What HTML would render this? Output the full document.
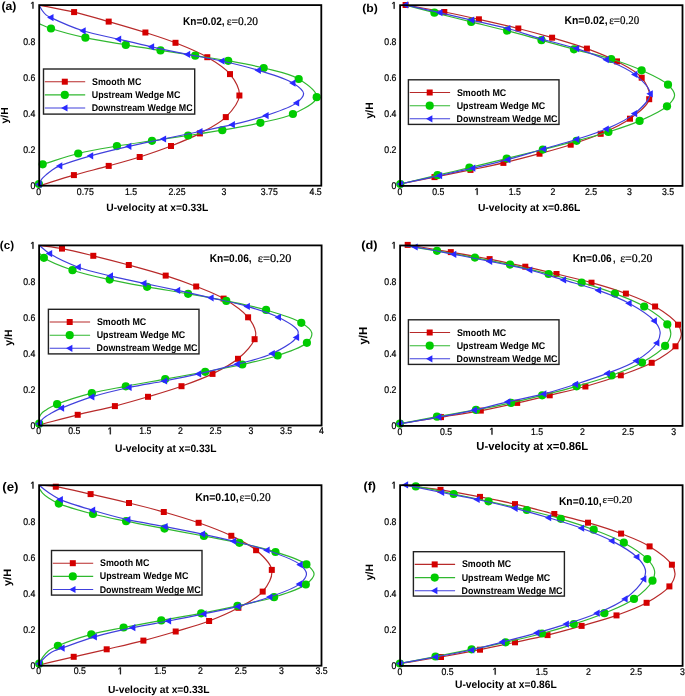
<!DOCTYPE html><html><head><meta charset="utf-8"><style>html,body{margin:0;padding:0;background:#fff;width:685px;height:696px;overflow:hidden}svg{display:block;filter:blur(0.3px)}text{text-rendering:geometricPrecision}</style></head><body><svg width="685" height="696" viewBox="0 0 685 696">
<rect width="685" height="696" fill="#fff"/>
<defs><clipPath id="c0"><rect x="39.2" y="4.6" width="282.6" height="181.1"/></clipPath><clipPath id="c1"><rect x="400.1" y="4.7" width="282.9" height="181.2"/></clipPath><clipPath id="c2"><rect x="39.1" y="244.9" width="283" height="180.6"/></clipPath><clipPath id="c3"><rect x="400.1" y="245" width="282.9" height="180.9"/></clipPath><clipPath id="c4"><rect x="39.1" y="484.7" width="282.9" height="181"/></clipPath><clipPath id="c5"><rect x="400.1" y="484.7" width="283" height="181.2"/></clipPath></defs>
<path d="M39.2,5.1 C50.83,7.43 62.54,9.36 74.1,12.1 C85.71,14.85 97.01,18.26 108.7,21.6 C120.77,25.05 133.81,28.8 145.4,32.5 C155.97,35.88 165.42,38.81 175.5,42.8 C186.05,46.98 197.86,51.63 207.3,57.2 C215.8,62.21 224.59,67.31 230,74.1 C234.92,80.27 239.92,88.49 239.4,95.5 C238.86,102.83 231.93,110.97 225.8,117.1 C219.08,123.81 208.96,128.61 199.9,133.4 C190.71,138.26 180.9,142.11 171,146 C160.85,149.99 150.16,153.66 139.7,157 C129.39,160.29 119.35,162.96 108.7,165.9 C97.45,169 85.46,171.81 73.9,175.1 C62.29,178.41 50.77,182.17 39.2,185.7" fill="none" stroke="#b82a2a" stroke-width="1.2" clip-path="url(#c0)"/>
<rect x="71.1" y="9.1" width="6" height="6" fill="#d40000"/>
<rect x="105.7" y="18.6" width="6" height="6" fill="#d40000"/>
<rect x="142.4" y="29.5" width="6" height="6" fill="#d40000"/>
<rect x="172.5" y="39.8" width="6" height="6" fill="#d40000"/>
<rect x="204.3" y="54.2" width="6" height="6" fill="#d40000"/>
<rect x="227" y="71.1" width="6" height="6" fill="#d40000"/>
<rect x="236.4" y="92.5" width="6" height="6" fill="#d40000"/>
<rect x="222.8" y="114.1" width="6" height="6" fill="#d40000"/>
<rect x="196.9" y="130.4" width="6" height="6" fill="#d40000"/>
<rect x="168" y="143" width="6" height="6" fill="#d40000"/>
<rect x="136.7" y="154" width="6" height="6" fill="#d40000"/>
<rect x="105.7" y="162.9" width="6" height="6" fill="#d40000"/>
<rect x="70.9" y="172.1" width="6" height="6" fill="#d40000"/>
<path d="M39,23.6 C43,25.23 45.9,26.79 51,28.5 C59.45,31.34 73.41,35.03 85.4,37.7 C98.27,40.56 112.84,42.72 125.8,44.9 C137.8,46.92 148.93,48.6 160.5,50.4 C172.06,52.2 183.78,53.95 195.2,55.7 C206.34,57.41 217.02,58.8 228.2,60.8 C239.84,62.88 251.99,64.98 263.7,68 C275.49,71.04 289.48,73.37 298.7,79 C306.4,83.7 317.2,91.53 316.7,97.2 C316.17,103.25 301.87,109.78 292.9,114 C283.26,118.53 271.71,120.17 260.4,122.8 C248.25,125.62 234.68,128.04 222.3,130.2 C210.61,132.24 199.66,133.76 188.1,135.5 C176.23,137.29 163.95,139.02 152,140.8 C140.22,142.55 128.87,144.05 116.9,146.1 C104.29,148.26 90.74,150.4 78.2,153.5 C66.03,156.51 54.53,160.7 42.7,164.3" fill="none" stroke="#30b830" stroke-width="1.2" clip-path="url(#c0)"/>
<circle cx="51" cy="28.5" r="4.1" fill="#00cc00"/>
<circle cx="85.4" cy="37.7" r="4.1" fill="#00cc00"/>
<circle cx="125.8" cy="44.9" r="4.1" fill="#00cc00"/>
<circle cx="160.5" cy="50.4" r="4.1" fill="#00cc00"/>
<circle cx="195.2" cy="55.7" r="4.1" fill="#00cc00"/>
<circle cx="228.2" cy="60.8" r="4.1" fill="#00cc00"/>
<circle cx="263.7" cy="68" r="4.1" fill="#00cc00"/>
<circle cx="298.7" cy="79" r="4.1" fill="#00cc00"/>
<circle cx="316.7" cy="97.2" r="4.1" fill="#00cc00"/>
<circle cx="292.9" cy="114" r="4.1" fill="#00cc00"/>
<circle cx="260.4" cy="122.8" r="4.1" fill="#00cc00"/>
<circle cx="222.3" cy="130.2" r="4.1" fill="#00cc00"/>
<circle cx="188.1" cy="135.5" r="4.1" fill="#00cc00"/>
<circle cx="152" cy="140.8" r="4.1" fill="#00cc00"/>
<circle cx="116.9" cy="146.1" r="4.1" fill="#00cc00"/>
<circle cx="78.2" cy="153.5" r="4.1" fill="#00cc00"/>
<circle cx="42.7" cy="164.3" r="4.1" fill="#00cc00"/>
<circle cx="38.9" cy="184" r="4.1" fill="#00cc00"/>
<path d="M39.2,5.1 C39.47,5.67 39.65,6.13 40,6.8 C40.53,7.81 41.3,9.25 42.2,10.5 C43.24,11.95 44.53,13.71 46,14.9 C47.44,16.07 48.5,16.45 50.9,17.6 C56.88,20.46 71.96,27.22 83.1,30.8 C94.51,34.46 106.99,36.49 118.6,39.2 C129.77,41.81 140.27,44.32 151.5,46.8 C163.24,49.39 175.71,52 187.6,54.4 C199.17,56.73 210.34,58.41 221.9,61 C233.89,63.68 246.42,66.59 258.3,70.3 C270.08,73.97 284.99,78.09 292.9,83.1 C297.94,86.3 303.34,90.09 303.6,93.6 C303.83,96.69 300.31,100.02 296.6,102.9 C290.33,107.76 276.57,112 266,115.6 C255.15,119.3 243.46,122.02 232.3,124.7 C221.43,127.31 211.02,129.19 199.9,131.5 C188.12,133.95 175.49,136.5 163.5,139 C151.79,141.44 140.62,143.59 128.8,146.3 C116.35,149.16 102.6,152.35 90.6,155.8 C79.69,158.93 66.42,163.04 59.7,165.9 C56.26,167.36 54.48,168.41 52.2,169.9 C50.07,171.29 48.19,172.91 46.4,174.5 C44.7,176.01 42.96,177.5 41.7,179.2 C40.53,180.78 39.9,182.6 39,184.3" fill="none" stroke="#4040dc" stroke-width="1.2" clip-path="url(#c0)"/>
<path d="M47.1,17.6 L53.5,14 L53.5,21.2 Z" fill="#2a2aff"/>
<path d="M79.3,30.8 L85.7,27.2 L85.7,34.4 Z" fill="#2a2aff"/>
<path d="M114.8,39.2 L121.2,35.6 L121.2,42.8 Z" fill="#2a2aff"/>
<path d="M147.7,46.8 L154.1,43.2 L154.1,50.4 Z" fill="#2a2aff"/>
<path d="M183.8,54.4 L190.2,50.8 L190.2,58 Z" fill="#2a2aff"/>
<path d="M218.1,61 L224.5,57.4 L224.5,64.6 Z" fill="#2a2aff"/>
<path d="M254.5,70.3 L260.9,66.7 L260.9,73.9 Z" fill="#2a2aff"/>
<path d="M289.1,83.1 L295.5,79.5 L295.5,86.7 Z" fill="#2a2aff"/>
<path d="M292.8,102.9 L299.2,99.3 L299.2,106.5 Z" fill="#2a2aff"/>
<path d="M262.2,115.6 L268.6,112 L268.6,119.2 Z" fill="#2a2aff"/>
<path d="M228.5,124.7 L234.9,121.1 L234.9,128.3 Z" fill="#2a2aff"/>
<path d="M196.1,131.5 L202.5,127.9 L202.5,135.1 Z" fill="#2a2aff"/>
<path d="M159.7,139 L166.1,135.4 L166.1,142.6 Z" fill="#2a2aff"/>
<path d="M125,146.3 L131.4,142.7 L131.4,149.9 Z" fill="#2a2aff"/>
<path d="M86.8,155.8 L93.2,152.2 L93.2,159.4 Z" fill="#2a2aff"/>
<path d="M55.9,165.9 L62.3,162.3 L62.3,169.5 Z" fill="#2a2aff"/>
<path d="M35.2,184.3 L41.6,180.7 L41.6,187.9 Z" fill="#2a2aff"/>
<rect x="39.2" y="5.1" width="282.1" height="180.6" fill="none" stroke="#000" stroke-width="1.8"/>
<text transform="translate(35.25,189) scale(0.9000,1)" text-anchor="end" style="font-family:'Liberation Sans',sans-serif;stroke:#000;stroke-width:0.22px;font-size:9.7px">0</text>
<text transform="translate(35.25,152.92) scale(0.9000,1)" text-anchor="end" style="font-family:'Liberation Sans',sans-serif;stroke:#000;stroke-width:0.22px;font-size:9.7px">0.2</text>
<text transform="translate(35.25,116.84) scale(0.9000,1)" text-anchor="end" style="font-family:'Liberation Sans',sans-serif;stroke:#000;stroke-width:0.22px;font-size:9.7px">0.4</text>
<text transform="translate(35.25,80.76) scale(0.9000,1)" text-anchor="end" style="font-family:'Liberation Sans',sans-serif;stroke:#000;stroke-width:0.22px;font-size:9.7px">0.6</text>
<text transform="translate(35.25,44.68) scale(0.9000,1)" text-anchor="end" style="font-family:'Liberation Sans',sans-serif;stroke:#000;stroke-width:0.22px;font-size:9.7px">0.8</text>
<path d="M32.59,8.6 L32.59,2.74 L31.23,3.82 L31.23,3.01 L32.65,1.93 L33.36,1.93 L33.36,8.6 Z" fill="#000" stroke="#000" stroke-width="0.4"/>
<text transform="translate(38.6,194.7) scale(0.9000,1)" text-anchor="middle" style="font-family:'Liberation Sans',sans-serif;stroke:#000;stroke-width:0.22px;font-size:9.7px">0</text>
<text transform="translate(85.3,194.7) scale(0.9000,1)" text-anchor="middle" style="font-family:'Liberation Sans',sans-serif;stroke:#000;stroke-width:0.22px;font-size:9.7px">0.75</text>
<text transform="translate(131,194.7) scale(0.9000,1)" text-anchor="middle" style="font-family:'Liberation Sans',sans-serif;stroke:#000;stroke-width:0.22px;font-size:9.7px">1.5</text>
<text transform="translate(177,194.7) scale(0.9000,1)" text-anchor="middle" style="font-family:'Liberation Sans',sans-serif;stroke:#000;stroke-width:0.22px;font-size:9.7px">2.25</text>
<text transform="translate(223.8,194.7) scale(0.9000,1)" text-anchor="middle" style="font-family:'Liberation Sans',sans-serif;stroke:#000;stroke-width:0.22px;font-size:9.7px">3</text>
<text transform="translate(269.3,194.7) scale(0.9000,1)" text-anchor="middle" style="font-family:'Liberation Sans',sans-serif;stroke:#000;stroke-width:0.22px;font-size:9.7px">3.75</text>
<text transform="translate(315.6,194.7) scale(0.9000,1)" text-anchor="middle" style="font-family:'Liberation Sans',sans-serif;stroke:#000;stroke-width:0.22px;font-size:9.7px">4.5</text>
<text transform="translate(106.28,211.4) scale(0.9788,1)" style="font-family:'Liberation Sans',sans-serif;font-weight:bold;font-size:10.5px">U-velocity at x=0.33L</text>
<text transform="translate(1.39,10.18) scale(1.0546,1)" style="font-family:'Liberation Sans',sans-serif;font-weight:bold;font-size:11.64px">(a)</text>
<text transform="translate(8.48,123.4) rotate(-90) scale(1.0275,1)" x="-0.08" style="font-family:'Liberation Sans',sans-serif;font-weight:bold;font-size:10.19px">y/H</text>
<text transform="translate(183.04,24.9) scale(0.8998,1)" style="font-family:'Liberation Sans',sans-serif;font-weight:bold;font-size:11.17px">Kn=0.02,</text>
<text transform="translate(226.76,24.9) scale(0.9925,1)" style="font-family:'Liberation Serif',serif;stroke:#000;stroke-width:0.2px;font-size:11.56px">ε=0.20</text>
<rect x="43.5" y="69" width="151.2" height="45.1" fill="#fff" stroke="#222" stroke-width="1.4"/>
<line x1="44.8" y1="81.7" x2="85.2" y2="81.7" stroke="#b82a2a" stroke-width="1.1"/>
<rect x="61.8" y="78.7" width="6" height="6" fill="#d40000"/>
<text transform="translate(92.03,84.7) scale(0.9100,1)" text-anchor="start" style="font-family:'Liberation Sans',sans-serif;font-weight:bold;font-size:9.75px">Smooth MC</text>
<line x1="44.8" y1="94.9" x2="85.2" y2="94.9" stroke="#30b830" stroke-width="1.1"/>
<circle cx="64.8" cy="94.9" r="4.1" fill="#00cc00"/>
<text transform="translate(91.77,97.9) scale(0.9100,1)" text-anchor="start" style="font-family:'Liberation Sans',sans-serif;font-weight:bold;font-size:9.75px">Upstream Wedge MC</text>
<line x1="44.8" y1="108" x2="85.2" y2="108" stroke="#4040dc" stroke-width="1.1"/>
<path d="M61.1,108 L67.5,104.4 L67.5,111.6 Z" fill="#2a2aff"/>
<text transform="translate(91.71,111) scale(0.9100,1)" text-anchor="start" style="font-family:'Liberation Sans',sans-serif;font-weight:bold;font-size:9.75px">Downstream Wedge MC</text>
<path d="M400.3,184 C411.7,181.7 422.95,179.42 434.5,177.1 C446.35,174.72 458.78,172.32 470.5,169.9 C481.72,167.58 492.21,165.52 503.4,162.9 C515.18,160.15 527.93,156.84 539.5,153.7 C550.3,150.77 560.46,148.03 570.7,144.7 C580.85,141.39 590.89,138.09 600.7,133.8 C610.67,129.44 621.67,124.83 630,118.7 C637.59,113.11 647.58,106.41 649.2,99.2 C650.68,92.62 646.41,83.74 641.7,77.7 C636.33,70.81 625.87,66.16 617,61.4 C607.67,56.39 597.4,52.47 586.9,48.6 C575.82,44.52 563.65,41.08 552.1,37.7 C540.78,34.39 530.03,31.46 518.3,28.5 C505.7,25.31 491.62,22.13 478.9,19.3 C467.01,16.66 456.17,14.33 444.3,12 C431.78,9.55 418.5,7.33 405.6,5" fill="none" stroke="#b82a2a" stroke-width="1.2" clip-path="url(#c1)"/>
<rect x="431.5" y="174.1" width="6" height="6" fill="#d40000"/>
<rect x="467.5" y="166.9" width="6" height="6" fill="#d40000"/>
<rect x="500.4" y="159.9" width="6" height="6" fill="#d40000"/>
<rect x="536.5" y="150.7" width="6" height="6" fill="#d40000"/>
<rect x="567.7" y="141.7" width="6" height="6" fill="#d40000"/>
<rect x="597.7" y="130.8" width="6" height="6" fill="#d40000"/>
<rect x="627" y="115.7" width="6" height="6" fill="#d40000"/>
<rect x="646.2" y="96.2" width="6" height="6" fill="#d40000"/>
<rect x="638.7" y="74.7" width="6" height="6" fill="#d40000"/>
<rect x="614" y="58.4" width="6" height="6" fill="#d40000"/>
<rect x="583.9" y="45.6" width="6" height="6" fill="#d40000"/>
<rect x="549.1" y="34.7" width="6" height="6" fill="#d40000"/>
<rect x="515.3" y="25.5" width="6" height="6" fill="#d40000"/>
<rect x="475.9" y="16.3" width="6" height="6" fill="#d40000"/>
<rect x="441.3" y="9" width="6" height="6" fill="#d40000"/>
<rect x="402.6" y="2" width="6" height="6" fill="#d40000"/>
<path d="M400.3,184 C412.7,181.07 425.58,178.01 437.5,175.2 C448.54,172.6 458.36,170.36 469.4,167.7 C481.36,164.82 494.37,161.54 506.7,158.5 C518.83,155.51 530.97,152.6 542.8,149.6 C554.26,146.7 565.52,143.78 576.6,140.8 C587.37,137.91 597.91,135.31 608.4,132 C618.91,128.68 629.69,125.27 639.6,120.9 C649.19,116.67 661.05,111.6 667,106.3 C670.9,102.82 674.51,98.96 674.6,95.3 C674.68,91.76 671.56,88.06 668,84.7 C662.48,79.48 650.87,74.52 641.6,70.3 C631.97,65.91 621.93,62.39 611.2,59 C599.51,55.31 585.97,52.54 574,49.3 C562.79,46.27 552.49,43.26 541.5,40.2 C530.2,37.06 518.71,33.73 507.1,30.7 C495.28,27.62 483.24,24.88 471.2,21.9 C459.01,18.88 445.91,15.64 434.4,12.7 C424.21,10.1 415.2,7.7 405.6,5.2" fill="none" stroke="#30b830" stroke-width="1.2" clip-path="url(#c1)"/>
<circle cx="400.3" cy="184" r="4.1" fill="#00cc00"/>
<circle cx="437.5" cy="175.2" r="4.1" fill="#00cc00"/>
<circle cx="469.4" cy="167.7" r="4.1" fill="#00cc00"/>
<circle cx="506.7" cy="158.5" r="4.1" fill="#00cc00"/>
<circle cx="542.8" cy="149.6" r="4.1" fill="#00cc00"/>
<circle cx="576.6" cy="140.8" r="4.1" fill="#00cc00"/>
<circle cx="608.4" cy="132" r="4.1" fill="#00cc00"/>
<circle cx="639.6" cy="120.9" r="4.1" fill="#00cc00"/>
<circle cx="667" cy="106.3" r="4.1" fill="#00cc00"/>
<circle cx="668" cy="84.7" r="4.1" fill="#00cc00"/>
<circle cx="641.6" cy="70.3" r="4.1" fill="#00cc00"/>
<circle cx="611.2" cy="59" r="4.1" fill="#00cc00"/>
<circle cx="574" cy="49.3" r="4.1" fill="#00cc00"/>
<circle cx="541.5" cy="40.2" r="4.1" fill="#00cc00"/>
<circle cx="507.1" cy="30.7" r="4.1" fill="#00cc00"/>
<circle cx="471.2" cy="21.9" r="4.1" fill="#00cc00"/>
<circle cx="434.4" cy="12.7" r="4.1" fill="#00cc00"/>
<path d="M400.3,184 C413.37,181.2 426.98,178.34 439.5,175.6 C451.03,173.08 461.49,170.82 472.7,168.2 C484.25,165.5 496.09,162.77 507.8,159.6 C519.69,156.38 531.82,152.44 543.5,149 C554.74,145.68 565.92,142.72 576.6,139.3 C586.78,136.04 596.6,133.24 606.2,129 C615.94,124.7 627.03,119.98 634.6,113.6 C641.28,107.97 650.21,100.36 650.2,93.8 C650.19,87.3 641.44,79.86 634.8,74.4 C627.25,68.19 616.03,64.01 606.3,59.7 C596.63,55.42 586.99,51.96 576.6,48.6 C565.49,45.01 553.14,42.37 541.6,39 C530.21,35.67 519.32,31.62 507.8,28.5 C496,25.3 483.27,22.82 471.6,20.1 C460.68,17.56 450.68,15.18 439.9,12.7 C428.7,10.12 417.03,7.5 405.6,4.9" fill="none" stroke="#4040dc" stroke-width="1.2" clip-path="url(#c1)"/>
<path d="M396.5,184 L402.9,180.4 L402.9,187.6 Z" fill="#2a2aff"/>
<path d="M435.7,175.6 L442.1,172 L442.1,179.2 Z" fill="#2a2aff"/>
<path d="M468.9,168.2 L475.3,164.6 L475.3,171.8 Z" fill="#2a2aff"/>
<path d="M504,159.6 L510.4,156 L510.4,163.2 Z" fill="#2a2aff"/>
<path d="M539.7,149 L546.1,145.4 L546.1,152.6 Z" fill="#2a2aff"/>
<path d="M572.8,139.3 L579.2,135.7 L579.2,142.9 Z" fill="#2a2aff"/>
<path d="M602.4,129 L608.8,125.4 L608.8,132.6 Z" fill="#2a2aff"/>
<path d="M630.8,113.6 L637.2,110 L637.2,117.2 Z" fill="#2a2aff"/>
<path d="M646.4,93.8 L652.8,90.2 L652.8,97.4 Z" fill="#2a2aff"/>
<path d="M631,74.4 L637.4,70.8 L637.4,78 Z" fill="#2a2aff"/>
<path d="M602.5,59.7 L608.9,56.1 L608.9,63.3 Z" fill="#2a2aff"/>
<path d="M572.8,48.6 L579.2,45 L579.2,52.2 Z" fill="#2a2aff"/>
<path d="M537.8,39 L544.2,35.4 L544.2,42.6 Z" fill="#2a2aff"/>
<path d="M504,28.5 L510.4,24.9 L510.4,32.1 Z" fill="#2a2aff"/>
<path d="M467.8,20.1 L474.2,16.5 L474.2,23.7 Z" fill="#2a2aff"/>
<path d="M436.1,12.7 L442.5,9.1 L442.5,16.3 Z" fill="#2a2aff"/>
<path d="M401.8,4.9 L408.2,1.3 L408.2,8.5 Z" fill="#2a2aff"/>
<rect x="400.1" y="5.2" width="282.4" height="180.7" fill="none" stroke="#000" stroke-width="1.8"/>
<text transform="translate(396.4,189) scale(0.9000,1)" text-anchor="end" style="font-family:'Liberation Sans',sans-serif;stroke:#000;stroke-width:0.22px;font-size:9.7px">0</text>
<text transform="translate(396.4,152.94) scale(0.9000,1)" text-anchor="end" style="font-family:'Liberation Sans',sans-serif;stroke:#000;stroke-width:0.22px;font-size:9.7px">0.2</text>
<text transform="translate(396.4,116.88) scale(0.9000,1)" text-anchor="end" style="font-family:'Liberation Sans',sans-serif;stroke:#000;stroke-width:0.22px;font-size:9.7px">0.4</text>
<text transform="translate(396.4,80.82) scale(0.9000,1)" text-anchor="end" style="font-family:'Liberation Sans',sans-serif;stroke:#000;stroke-width:0.22px;font-size:9.7px">0.6</text>
<text transform="translate(396.4,44.76) scale(0.9000,1)" text-anchor="end" style="font-family:'Liberation Sans',sans-serif;stroke:#000;stroke-width:0.22px;font-size:9.7px">0.8</text>
<path d="M393.74,8.7 L393.74,2.84 L392.38,3.92 L392.38,3.11 L393.8,2.03 L394.51,2.03 L394.51,8.7 Z" fill="#000" stroke="#000" stroke-width="0.4"/>
<text transform="translate(399.9,194.8) scale(0.9000,1)" text-anchor="middle" style="font-family:'Liberation Sans',sans-serif;stroke:#000;stroke-width:0.22px;font-size:9.7px">0</text>
<text transform="translate(438.2,194.8) scale(0.9000,1)" text-anchor="middle" style="font-family:'Liberation Sans',sans-serif;stroke:#000;stroke-width:0.22px;font-size:9.7px">0.5</text>
<path d="M476.79,194.8 L476.79,188.94 L475.44,190.02 L475.44,189.21 L476.86,188.13 L477.57,188.13 L477.57,194.8 Z" fill="#000" stroke="#000" stroke-width="0.4"/>
<text transform="translate(514.8,194.8) scale(0.9000,1)" text-anchor="middle" style="font-family:'Liberation Sans',sans-serif;stroke:#000;stroke-width:0.22px;font-size:9.7px">1.5</text>
<text transform="translate(553,194.8) scale(0.9000,1)" text-anchor="middle" style="font-family:'Liberation Sans',sans-serif;stroke:#000;stroke-width:0.22px;font-size:9.7px">2</text>
<text transform="translate(591,194.8) scale(0.9000,1)" text-anchor="middle" style="font-family:'Liberation Sans',sans-serif;stroke:#000;stroke-width:0.22px;font-size:9.7px">2.5</text>
<text transform="translate(629.4,194.8) scale(0.9000,1)" text-anchor="middle" style="font-family:'Liberation Sans',sans-serif;stroke:#000;stroke-width:0.22px;font-size:9.7px">3</text>
<text transform="translate(668,194.8) scale(0.9000,1)" text-anchor="middle" style="font-family:'Liberation Sans',sans-serif;stroke:#000;stroke-width:0.22px;font-size:9.7px">3.5</text>
<text transform="translate(477.88,210.8) scale(0.9968,1)" style="font-family:'Liberation Sans',sans-serif;font-weight:bold;font-size:10.36px">U-velocity at x=0.86L</text>
<text transform="translate(362.29,12.23) scale(1.0748,1)" style="font-family:'Liberation Sans',sans-serif;font-weight:bold;font-size:11.37px">(b)</text>
<text transform="translate(372.87,118.4) rotate(-90) scale(0.9761,1)" x="-0.09" style="font-family:'Liberation Sans',sans-serif;font-weight:bold;font-size:10.73px">y/H</text>
<text transform="translate(564.51,23.7) scale(0.9310,1)" style="font-family:'Liberation Sans',sans-serif;font-weight:bold;font-size:11.17px">Kn=0.02,</text>
<text transform="translate(609.18,23.7) scale(0.9502,1)" style="font-family:'Liberation Serif',serif;stroke:#000;stroke-width:0.2px;font-size:11.56px">ε=0.20</text>
<rect x="408.4" y="79.8" width="150.6" height="44.6" fill="#fff" stroke="#222" stroke-width="1.4"/>
<line x1="409.7" y1="92.5" x2="450.1" y2="92.5" stroke="#b82a2a" stroke-width="1.1"/>
<rect x="426.7" y="89.5" width="6" height="6" fill="#d40000"/>
<text transform="translate(456.93,95.5) scale(0.9100,1)" text-anchor="start" style="font-family:'Liberation Sans',sans-serif;font-weight:bold;font-size:9.75px">Smooth MC</text>
<line x1="409.7" y1="105.7" x2="450.1" y2="105.7" stroke="#30b830" stroke-width="1.1"/>
<circle cx="429.7" cy="105.7" r="4.1" fill="#00cc00"/>
<text transform="translate(456.67,108.7) scale(0.9100,1)" text-anchor="start" style="font-family:'Liberation Sans',sans-serif;font-weight:bold;font-size:9.75px">Upstream Wedge MC</text>
<line x1="409.7" y1="118.8" x2="450.1" y2="118.8" stroke="#4040dc" stroke-width="1.1"/>
<path d="M426,118.8 L432.4,115.2 L432.4,122.4 Z" fill="#2a2aff"/>
<text transform="translate(456.61,121.8) scale(0.9100,1)" text-anchor="start" style="font-family:'Liberation Sans',sans-serif;font-weight:bold;font-size:9.75px">Downstream Wedge MC</text>
<path d="M39.1,245.3 C46.73,246.4 53.81,247.07 62,248.6 C71.65,250.4 82.56,253.17 93.3,255.8 C104.78,258.61 116.87,261.74 128.8,265 C141,268.33 154.04,271.85 165.7,275.6 C176.41,279.05 186.37,282.58 196.2,286.5 C205.65,290.27 215,293.52 223.6,298.6 C232.32,303.75 242.68,310.8 248.1,317.3 C252.07,322.06 254.9,327.87 255.6,332 C256.06,334.74 255.84,336.43 254.6,339.2 C252.27,344.41 244.68,353.16 238,358.8 C230.82,364.86 221.6,369.43 212.5,373.9 C202.84,378.64 192.1,382.42 181.5,386.2 C170.62,390.08 159.16,393.47 148,396.8 C136.96,400.1 126.29,403.17 114.9,406.1 C102.89,409.19 90.19,411.69 77.7,414.8 C64.93,417.98 51.97,421.6 39.1,425" fill="none" stroke="#b82a2a" stroke-width="1.2" clip-path="url(#c2)"/>
<rect x="59" y="245.6" width="6" height="6" fill="#d40000"/>
<rect x="90.3" y="252.8" width="6" height="6" fill="#d40000"/>
<rect x="125.8" y="262" width="6" height="6" fill="#d40000"/>
<rect x="162.7" y="272.6" width="6" height="6" fill="#d40000"/>
<rect x="193.2" y="283.5" width="6" height="6" fill="#d40000"/>
<rect x="220.6" y="295.6" width="6" height="6" fill="#d40000"/>
<rect x="245.1" y="314.3" width="6" height="6" fill="#d40000"/>
<rect x="251.6" y="336.2" width="6" height="6" fill="#d40000"/>
<rect x="235" y="355.8" width="6" height="6" fill="#d40000"/>
<rect x="209.5" y="370.9" width="6" height="6" fill="#d40000"/>
<rect x="178.5" y="383.2" width="6" height="6" fill="#d40000"/>
<rect x="145" y="393.8" width="6" height="6" fill="#d40000"/>
<rect x="111.9" y="403.1" width="6" height="6" fill="#d40000"/>
<rect x="74.7" y="411.8" width="6" height="6" fill="#d40000"/>
<path d="M39,252.5 C40.63,254.27 41.31,255.96 43.9,257.8 C49.29,261.62 62.19,266.69 72.5,270.2 C83.94,274.1 97.24,276.83 109.7,279.6 C122.11,282.36 134.33,284.48 147.1,286.8 C160.44,289.22 174.68,291.41 188.1,293.8 C201.07,296.11 213.46,298.26 226.3,300.9 C239.46,303.61 253.36,306.14 266.1,309.9 C278.31,313.5 293.33,317.85 301.3,322.8 C306.26,325.88 311.16,329.22 311.8,332.8 C312.36,335.94 310.07,339.78 306.9,342.8 C301.53,347.92 287.97,351.96 277.6,355.5 C266.52,359.29 254.25,361.8 242.3,364.5 C230.12,367.25 217.81,369.41 205.2,371.8 C192.13,374.28 178.48,376.67 165.2,379.1 C152.02,381.51 138.44,383.86 125.8,386.3 C114.04,388.57 103.11,390.27 91.8,393.2 C80.21,396.2 63.68,401.64 57.1,404.2 C54.39,405.25 53.36,405.83 51.5,406.8 C49.56,407.82 47.47,408.98 45.7,410.2 C44.06,411.33 42.29,412.46 41.2,413.8 C40.27,414.94 39.66,416.06 39.3,417.5 C38.86,419.26 39.23,421.63 39.2,423.7" fill="none" stroke="#30b830" stroke-width="1.2" clip-path="url(#c2)"/>
<circle cx="43.9" cy="257.8" r="4.1" fill="#00cc00"/>
<circle cx="72.5" cy="270.2" r="4.1" fill="#00cc00"/>
<circle cx="109.7" cy="279.6" r="4.1" fill="#00cc00"/>
<circle cx="147.1" cy="286.8" r="4.1" fill="#00cc00"/>
<circle cx="188.1" cy="293.8" r="4.1" fill="#00cc00"/>
<circle cx="226.3" cy="300.9" r="4.1" fill="#00cc00"/>
<circle cx="266.1" cy="309.9" r="4.1" fill="#00cc00"/>
<circle cx="301.3" cy="322.8" r="4.1" fill="#00cc00"/>
<circle cx="306.9" cy="342.8" r="4.1" fill="#00cc00"/>
<circle cx="277.6" cy="355.5" r="4.1" fill="#00cc00"/>
<circle cx="242.3" cy="364.5" r="4.1" fill="#00cc00"/>
<circle cx="205.2" cy="371.8" r="4.1" fill="#00cc00"/>
<circle cx="165.2" cy="379.1" r="4.1" fill="#00cc00"/>
<circle cx="125.8" cy="386.3" r="4.1" fill="#00cc00"/>
<circle cx="91.8" cy="393.2" r="4.1" fill="#00cc00"/>
<circle cx="57.1" cy="404.2" r="4.1" fill="#00cc00"/>
<circle cx="39.2" cy="423.7" r="4.1" fill="#00cc00"/>
<path d="M39.1,245.3 C42.6,248.07 45.04,250.76 49.6,253.6 C56.62,257.97 68.21,263.51 78.2,267.2 C88.45,270.99 99.53,273.23 110.4,275.9 C121.43,278.61 132.71,280.89 143.9,283.3 C155.11,285.72 166.4,287.98 177.6,290.4 C188.76,292.81 199.64,295.2 211,297.8 C222.86,300.52 235.75,303.02 247.3,306.4 C258.15,309.58 269.5,312.73 278.4,317.3 C285.96,321.19 296.25,326.76 297.9,331 C298.77,333.22 298.05,335.13 296.5,337.4 C293.23,342.18 281.39,349.16 272.2,353.5 C261.9,358.36 249.2,360.86 237.2,364.2 C224.69,367.68 211.1,371.03 198.6,373.9 C186.91,376.58 175.99,378.75 164.5,381 C152.8,383.29 140.93,384.9 129,387.5 C116.7,390.18 103.47,393.28 91.8,396.9 C81.09,400.22 66.92,405.91 61.5,408.1 C59.48,408.91 58.87,409.18 57.4,409.9 C55.59,410.78 53.45,411.99 51.5,413.1 C49.55,414.22 47.42,415.36 45.7,416.6 C44.16,417.71 42.72,418.84 41.6,420.1 C40.6,421.23 40,422.5 39.2,423.7" fill="none" stroke="#4040dc" stroke-width="1.2" clip-path="url(#c2)"/>
<path d="M45.8,253.6 L52.2,250 L52.2,257.2 Z" fill="#2a2aff"/>
<path d="M74.4,267.2 L80.8,263.6 L80.8,270.8 Z" fill="#2a2aff"/>
<path d="M106.6,275.9 L113,272.3 L113,279.5 Z" fill="#2a2aff"/>
<path d="M140.1,283.3 L146.5,279.7 L146.5,286.9 Z" fill="#2a2aff"/>
<path d="M173.8,290.4 L180.2,286.8 L180.2,294 Z" fill="#2a2aff"/>
<path d="M207.2,297.8 L213.6,294.2 L213.6,301.4 Z" fill="#2a2aff"/>
<path d="M243.5,306.4 L249.9,302.8 L249.9,310 Z" fill="#2a2aff"/>
<path d="M274.6,317.3 L281,313.7 L281,320.9 Z" fill="#2a2aff"/>
<path d="M292.7,337.4 L299.1,333.8 L299.1,341 Z" fill="#2a2aff"/>
<path d="M268.4,353.5 L274.8,349.9 L274.8,357.1 Z" fill="#2a2aff"/>
<path d="M233.4,364.2 L239.8,360.6 L239.8,367.8 Z" fill="#2a2aff"/>
<path d="M194.8,373.9 L201.2,370.3 L201.2,377.5 Z" fill="#2a2aff"/>
<path d="M160.7,381 L167.1,377.4 L167.1,384.6 Z" fill="#2a2aff"/>
<path d="M125.2,387.5 L131.6,383.9 L131.6,391.1 Z" fill="#2a2aff"/>
<path d="M88,396.9 L94.4,393.3 L94.4,400.5 Z" fill="#2a2aff"/>
<path d="M57.7,408.1 L64.1,404.5 L64.1,411.7 Z" fill="#2a2aff"/>
<path d="M35.4,423.7 L41.8,420.1 L41.8,427.3 Z" fill="#2a2aff"/>
<rect x="39.1" y="245.4" width="282.5" height="180.1" fill="none" stroke="#000" stroke-width="1.8"/>
<text transform="translate(35.25,428.6) scale(0.9000,1)" text-anchor="end" style="font-family:'Liberation Sans',sans-serif;stroke:#000;stroke-width:0.22px;font-size:9.7px">0</text>
<text transform="translate(35.25,392.62) scale(0.9000,1)" text-anchor="end" style="font-family:'Liberation Sans',sans-serif;stroke:#000;stroke-width:0.22px;font-size:9.7px">0.2</text>
<text transform="translate(35.25,356.64) scale(0.9000,1)" text-anchor="end" style="font-family:'Liberation Sans',sans-serif;stroke:#000;stroke-width:0.22px;font-size:9.7px">0.4</text>
<text transform="translate(35.25,320.66) scale(0.9000,1)" text-anchor="end" style="font-family:'Liberation Sans',sans-serif;stroke:#000;stroke-width:0.22px;font-size:9.7px">0.6</text>
<text transform="translate(35.25,284.68) scale(0.9000,1)" text-anchor="end" style="font-family:'Liberation Sans',sans-serif;stroke:#000;stroke-width:0.22px;font-size:9.7px">0.8</text>
<path d="M32.59,248.7 L32.59,242.84 L31.23,243.92 L31.23,243.11 L32.65,242.03 L33.36,242.03 L33.36,248.7 Z" fill="#000" stroke="#000" stroke-width="0.4"/>
<text transform="translate(38.7,434.2) scale(0.9000,1)" text-anchor="middle" style="font-family:'Liberation Sans',sans-serif;stroke:#000;stroke-width:0.22px;font-size:9.7px">0</text>
<text transform="translate(74.2,434.2) scale(0.9000,1)" text-anchor="middle" style="font-family:'Liberation Sans',sans-serif;stroke:#000;stroke-width:0.22px;font-size:9.7px">0.5</text>
<path d="M109.89,434.2 L109.89,428.34 L108.54,429.42 L108.54,428.61 L109.96,427.53 L110.67,427.53 L110.67,434.2 Z" fill="#000" stroke="#000" stroke-width="0.4"/>
<text transform="translate(145.3,434.2) scale(0.9000,1)" text-anchor="middle" style="font-family:'Liberation Sans',sans-serif;stroke:#000;stroke-width:0.22px;font-size:9.7px">1.5</text>
<text transform="translate(180.4,434.2) scale(0.9000,1)" text-anchor="middle" style="font-family:'Liberation Sans',sans-serif;stroke:#000;stroke-width:0.22px;font-size:9.7px">2</text>
<text transform="translate(215.6,434.2) scale(0.9000,1)" text-anchor="middle" style="font-family:'Liberation Sans',sans-serif;stroke:#000;stroke-width:0.22px;font-size:9.7px">2.5</text>
<text transform="translate(250.8,434.2) scale(0.9000,1)" text-anchor="middle" style="font-family:'Liberation Sans',sans-serif;stroke:#000;stroke-width:0.22px;font-size:9.7px">3</text>
<text transform="translate(286.1,434.2) scale(0.9000,1)" text-anchor="middle" style="font-family:'Liberation Sans',sans-serif;stroke:#000;stroke-width:0.22px;font-size:9.7px">3.5</text>
<text transform="translate(321.3,434.2) scale(0.9000,1)" text-anchor="middle" style="font-family:'Liberation Sans',sans-serif;stroke:#000;stroke-width:0.22px;font-size:9.7px">4</text>
<text transform="translate(114.99,451.7) scale(0.9509,1)" style="font-family:'Liberation Sans',sans-serif;font-weight:bold;font-size:10.77px">U-velocity at x=0.33L</text>
<text transform="translate(-0.18,248.73) scale(1.0247,1)" style="font-family:'Liberation Sans',sans-serif;font-weight:bold;font-size:11.37px">(c)</text>
<text transform="translate(11.59,345.6) rotate(-90) scale(0.9859,1)" x="-0.08" style="font-family:'Liberation Sans',sans-serif;font-weight:bold;font-size:10.62px">y/H</text>
<text transform="translate(209.63,262.1) scale(0.9087,1)" style="font-family:'Liberation Sans',sans-serif;font-weight:bold;font-size:11.17px">Kn=0.06,</text>
<text transform="translate(257.73,262.1) scale(1.0706,1)" style="font-family:'Liberation Serif',serif;stroke:#000;stroke-width:0.2px;font-size:11.56px">ε=0.20</text>
<rect x="48.4" y="309.3" width="150.6" height="44.6" fill="#fff" stroke="#222" stroke-width="1.4"/>
<line x1="49.7" y1="322" x2="90.1" y2="322" stroke="#b82a2a" stroke-width="1.1"/>
<rect x="66.7" y="319" width="6" height="6" fill="#d40000"/>
<text transform="translate(96.93,325) scale(0.9100,1)" text-anchor="start" style="font-family:'Liberation Sans',sans-serif;font-weight:bold;font-size:9.75px">Smooth MC</text>
<line x1="49.7" y1="335.2" x2="90.1" y2="335.2" stroke="#30b830" stroke-width="1.1"/>
<circle cx="69.7" cy="335.2" r="4.1" fill="#00cc00"/>
<text transform="translate(96.67,338.2) scale(0.9100,1)" text-anchor="start" style="font-family:'Liberation Sans',sans-serif;font-weight:bold;font-size:9.75px">Upstream Wedge MC</text>
<line x1="49.7" y1="348.3" x2="90.1" y2="348.3" stroke="#4040dc" stroke-width="1.1"/>
<path d="M66,348.3 L72.4,344.7 L72.4,351.9 Z" fill="#2a2aff"/>
<text transform="translate(96.61,351.3) scale(0.9100,1)" text-anchor="start" style="font-family:'Liberation Sans',sans-serif;font-weight:bold;font-size:9.75px">Downstream Wedge MC</text>
<path d="M407.7,244.9 C422.07,247.3 436.82,249.67 450.8,252.1 C464.08,254.41 476.95,256.61 489.6,259.1 C501.77,261.49 513.81,264.13 525.3,266.7 C536.06,269.1 545.81,271.42 556.5,274 C567.84,276.74 579.93,279.43 591.5,282.7 C603.07,285.97 615.01,289.48 625.9,293.6 C636.14,297.47 646.27,301.16 655.1,306.5 C663.56,311.61 673.99,318.99 678,324.7 C680.38,328.09 681.52,331.13 681.3,334.5 C681.05,338.3 678.81,342.46 675.5,346.3 C670.59,352 660.44,358.08 651.7,362.8 C642.33,367.86 631.53,371.44 620.8,375.3 C609.48,379.37 597.28,383.16 585.4,386.5 C573.58,389.82 561.33,392.51 549.7,395.3 C538.62,397.96 528.35,400.42 517.2,402.9 C505.42,405.52 493.23,408.27 480.8,410.6 C467.86,413.02 454.37,414.93 441,417.1 C427.41,419.3 413.6,421.5 399.9,423.7" fill="none" stroke="#b82a2a" stroke-width="1.2" clip-path="url(#c3)"/>
<rect x="404.7" y="241.9" width="6" height="6" fill="#d40000"/>
<rect x="447.8" y="249.1" width="6" height="6" fill="#d40000"/>
<rect x="486.6" y="256.1" width="6" height="6" fill="#d40000"/>
<rect x="522.3" y="263.7" width="6" height="6" fill="#d40000"/>
<rect x="553.5" y="271" width="6" height="6" fill="#d40000"/>
<rect x="588.5" y="279.7" width="6" height="6" fill="#d40000"/>
<rect x="622.9" y="290.6" width="6" height="6" fill="#d40000"/>
<rect x="652.1" y="303.5" width="6" height="6" fill="#d40000"/>
<rect x="675" y="321.7" width="6" height="6" fill="#d40000"/>
<rect x="672.5" y="343.3" width="6" height="6" fill="#d40000"/>
<rect x="648.7" y="359.8" width="6" height="6" fill="#d40000"/>
<rect x="617.8" y="372.3" width="6" height="6" fill="#d40000"/>
<rect x="582.4" y="383.5" width="6" height="6" fill="#d40000"/>
<rect x="546.7" y="392.3" width="6" height="6" fill="#d40000"/>
<rect x="514.2" y="399.9" width="6" height="6" fill="#d40000"/>
<rect x="477.8" y="407.6" width="6" height="6" fill="#d40000"/>
<rect x="438" y="414.1" width="6" height="6" fill="#d40000"/>
<path d="M402,245.2 C413.67,247.07 425.11,248.78 437,250.8 C449.39,252.9 462.52,255.26 474.9,257.6 C486.84,259.86 498.05,261.95 510,264.6 C522.59,267.39 536.25,270.87 548.6,274 C560.05,276.9 570.62,279.46 581.6,282.7 C592.72,285.98 604.25,289.52 614.9,293.6 C625.08,297.5 635.31,301.21 644.2,306.5 C652.7,311.56 663.2,318.78 667.3,324.4 C669.73,327.72 670.96,330.66 670.8,334 C670.62,337.79 668.35,342.01 665.1,345.9 C660.32,351.62 650.53,357.79 642,362.6 C632.82,367.78 622.19,371.63 611.6,375.5 C600.44,379.58 588.25,382.98 576.6,386.3 C565.12,389.57 553.4,392.47 542.2,395.3 C531.56,397.99 521.72,400.52 511,402.9 C499.69,405.41 488,407.65 476,409.9 C463.37,412.26 449.83,414.37 437,416.7 C424.47,418.97 412.27,421.37 399.9,423.7" fill="none" stroke="#30b830" stroke-width="1.2" clip-path="url(#c3)"/>
<circle cx="437" cy="250.8" r="4.1" fill="#00cc00"/>
<circle cx="474.9" cy="257.6" r="4.1" fill="#00cc00"/>
<circle cx="510" cy="264.6" r="4.1" fill="#00cc00"/>
<circle cx="548.6" cy="274" r="4.1" fill="#00cc00"/>
<circle cx="581.6" cy="282.7" r="4.1" fill="#00cc00"/>
<circle cx="614.9" cy="293.6" r="4.1" fill="#00cc00"/>
<circle cx="644.2" cy="306.5" r="4.1" fill="#00cc00"/>
<circle cx="667.3" cy="324.4" r="4.1" fill="#00cc00"/>
<circle cx="665.1" cy="345.9" r="4.1" fill="#00cc00"/>
<circle cx="642" cy="362.6" r="4.1" fill="#00cc00"/>
<circle cx="611.6" cy="375.5" r="4.1" fill="#00cc00"/>
<circle cx="576.6" cy="386.3" r="4.1" fill="#00cc00"/>
<circle cx="542.2" cy="395.3" r="4.1" fill="#00cc00"/>
<circle cx="511" cy="402.9" r="4.1" fill="#00cc00"/>
<circle cx="476" cy="409.9" r="4.1" fill="#00cc00"/>
<circle cx="437" cy="416.7" r="4.1" fill="#00cc00"/>
<circle cx="399.9" cy="423.7" r="4.1" fill="#00cc00"/>
<path d="M400.5,245.2 C405.37,245.8 409.09,246.06 415.1,247 C424.92,248.53 441.07,251.87 453.7,254.3 C465.89,256.64 477.32,258.77 489.6,261.3 C502.61,263.98 516.96,266.76 529.7,270 C541.5,273.01 552.14,276.53 563.5,279.9 C575.07,283.33 587.34,286.38 598.5,290.4 C609.12,294.23 619.56,298.09 629,303.3 C638.11,308.32 649.16,315.07 654.3,320.9 C657.57,324.62 659.74,328.23 660.1,332 C660.44,335.61 659.22,339.26 656.8,343 C653.07,348.76 644.07,355.84 636.2,360.8 C627.73,366.13 617.24,369.54 607.3,373.4 C597.03,377.39 586.12,380.87 575.5,384.3 C564.96,387.7 554.76,391.04 543.8,393.9 C532.24,396.91 519.57,399.05 507.8,401.8 C496.41,404.46 485.66,407.57 474.3,410.1 C462.67,412.69 450.92,414.88 438.8,417.1 C426.14,419.42 412.87,421.5 399.9,423.7" fill="none" stroke="#4040dc" stroke-width="1.2" clip-path="url(#c3)"/>
<path d="M411.3,247 L417.7,243.4 L417.7,250.6 Z" fill="#2a2aff"/>
<path d="M449.9,254.3 L456.3,250.7 L456.3,257.9 Z" fill="#2a2aff"/>
<path d="M485.8,261.3 L492.2,257.7 L492.2,264.9 Z" fill="#2a2aff"/>
<path d="M525.9,270 L532.3,266.4 L532.3,273.6 Z" fill="#2a2aff"/>
<path d="M559.7,279.9 L566.1,276.3 L566.1,283.5 Z" fill="#2a2aff"/>
<path d="M594.7,290.4 L601.1,286.8 L601.1,294 Z" fill="#2a2aff"/>
<path d="M625.2,303.3 L631.6,299.7 L631.6,306.9 Z" fill="#2a2aff"/>
<path d="M650.5,320.9 L656.9,317.3 L656.9,324.5 Z" fill="#2a2aff"/>
<path d="M653,343 L659.4,339.4 L659.4,346.6 Z" fill="#2a2aff"/>
<path d="M632.4,360.8 L638.8,357.2 L638.8,364.4 Z" fill="#2a2aff"/>
<path d="M603.5,373.4 L609.9,369.8 L609.9,377 Z" fill="#2a2aff"/>
<path d="M571.7,384.3 L578.1,380.7 L578.1,387.9 Z" fill="#2a2aff"/>
<path d="M540,393.9 L546.4,390.3 L546.4,397.5 Z" fill="#2a2aff"/>
<path d="M504,401.8 L510.4,398.2 L510.4,405.4 Z" fill="#2a2aff"/>
<path d="M470.5,410.1 L476.9,406.5 L476.9,413.7 Z" fill="#2a2aff"/>
<path d="M435,417.1 L441.4,413.5 L441.4,420.7 Z" fill="#2a2aff"/>
<path d="M396.1,423.7 L402.5,420.1 L402.5,427.3 Z" fill="#2a2aff"/>
<rect x="400.1" y="245.5" width="282.4" height="180.4" fill="none" stroke="#000" stroke-width="1.8"/>
<text transform="translate(396.4,429) scale(0.9000,1)" text-anchor="end" style="font-family:'Liberation Sans',sans-serif;stroke:#000;stroke-width:0.22px;font-size:9.7px">0</text>
<text transform="translate(396.4,392.92) scale(0.9000,1)" text-anchor="end" style="font-family:'Liberation Sans',sans-serif;stroke:#000;stroke-width:0.22px;font-size:9.7px">0.2</text>
<text transform="translate(396.4,356.84) scale(0.9000,1)" text-anchor="end" style="font-family:'Liberation Sans',sans-serif;stroke:#000;stroke-width:0.22px;font-size:9.7px">0.4</text>
<text transform="translate(396.4,320.76) scale(0.9000,1)" text-anchor="end" style="font-family:'Liberation Sans',sans-serif;stroke:#000;stroke-width:0.22px;font-size:9.7px">0.6</text>
<text transform="translate(396.4,284.68) scale(0.9000,1)" text-anchor="end" style="font-family:'Liberation Sans',sans-serif;stroke:#000;stroke-width:0.22px;font-size:9.7px">0.8</text>
<path d="M393.74,248.6 L393.74,242.74 L392.38,243.82 L392.38,243.01 L393.8,241.93 L394.51,241.93 L394.51,248.6 Z" fill="#000" stroke="#000" stroke-width="0.4"/>
<text transform="translate(399.9,434.6) scale(0.9000,1)" text-anchor="middle" style="font-family:'Liberation Sans',sans-serif;stroke:#000;stroke-width:0.22px;font-size:9.7px">0</text>
<text transform="translate(446,434.6) scale(0.9000,1)" text-anchor="middle" style="font-family:'Liberation Sans',sans-serif;stroke:#000;stroke-width:0.22px;font-size:9.7px">0.5</text>
<path d="M491.59,434.6 L491.59,428.74 L490.24,429.82 L490.24,429.01 L491.66,427.93 L492.37,427.93 L492.37,434.6 Z" fill="#000" stroke="#000" stroke-width="0.4"/>
<text transform="translate(537,434.6) scale(0.9000,1)" text-anchor="middle" style="font-family:'Liberation Sans',sans-serif;stroke:#000;stroke-width:0.22px;font-size:9.7px">1.5</text>
<text transform="translate(582.4,434.6) scale(0.9000,1)" text-anchor="middle" style="font-family:'Liberation Sans',sans-serif;stroke:#000;stroke-width:0.22px;font-size:9.7px">2</text>
<text transform="translate(628,434.6) scale(0.9000,1)" text-anchor="middle" style="font-family:'Liberation Sans',sans-serif;stroke:#000;stroke-width:0.22px;font-size:9.7px">2.5</text>
<text transform="translate(673.7,434.6) scale(0.9000,1)" text-anchor="middle" style="font-family:'Liberation Sans',sans-serif;stroke:#000;stroke-width:0.22px;font-size:9.7px">3</text>
<text transform="translate(476.22,449.7) scale(0.9741,1)" style="font-family:'Liberation Sans',sans-serif;font-weight:bold;font-size:11.6px">U-velocity at x=0.86L</text>
<text transform="translate(361.26,249.27) scale(1.0888,1)" style="font-family:'Liberation Sans',sans-serif;font-weight:bold;font-size:11.7px">(d)</text>
<text transform="translate(367.39,344.4) rotate(-90) scale(0.9854,1)" x="-0.09" style="font-family:'Liberation Sans',sans-serif;font-weight:bold;font-size:11.59px">y/H</text>
<text transform="translate(572.63,262.1) scale(0.9063,1)" style="font-family:'Liberation Sans',sans-serif;font-weight:bold;font-size:11.17px">Kn=0.06</text>
<text transform="translate(620.15,262.1) scale(1.0250,1)" style="font-family:'Liberation Serif',serif;stroke:#000;stroke-width:0.2px;font-size:11.56px">ε=0.20</text>
<text transform="translate(612.8,262.1) scale(1.0000,1)" text-anchor="start" style="font-family:'Liberation Sans',sans-serif;stroke:#000;stroke-width:0.22px;font-size:11px">,</text>
<rect x="408.4" y="319.8" width="150.6" height="44.6" fill="#fff" stroke="#222" stroke-width="1.4"/>
<line x1="409.7" y1="332.5" x2="450.1" y2="332.5" stroke="#b82a2a" stroke-width="1.1"/>
<rect x="426.7" y="329.5" width="6" height="6" fill="#d40000"/>
<text transform="translate(456.93,335.5) scale(0.9100,1)" text-anchor="start" style="font-family:'Liberation Sans',sans-serif;font-weight:bold;font-size:9.75px">Smooth MC</text>
<line x1="409.7" y1="345.7" x2="450.1" y2="345.7" stroke="#30b830" stroke-width="1.1"/>
<circle cx="429.7" cy="345.7" r="4.1" fill="#00cc00"/>
<text transform="translate(456.67,348.7) scale(0.9100,1)" text-anchor="start" style="font-family:'Liberation Sans',sans-serif;font-weight:bold;font-size:9.75px">Upstream Wedge MC</text>
<line x1="409.7" y1="358.8" x2="450.1" y2="358.8" stroke="#4040dc" stroke-width="1.1"/>
<path d="M426,358.8 L432.4,355.2 L432.4,362.4 Z" fill="#2a2aff"/>
<text transform="translate(456.61,361.8) scale(0.9100,1)" text-anchor="start" style="font-family:'Liberation Sans',sans-serif;font-weight:bold;font-size:9.75px">Downstream Wedge MC</text>
<path d="M39.1,485.1 C44.67,485.63 49.26,485.69 55.8,486.7 C65.33,488.16 78.73,491.46 90.6,494.1 C103.1,496.88 116.53,499.94 129,503 C140.9,505.92 152.24,508.71 163.8,512 C175.44,515.31 187.26,518.79 198.6,522.8 C209.75,526.74 221.32,530.95 231.3,535.8 C240.31,540.18 249.22,544.26 256.1,550.2 C262.55,555.77 270.82,562.87 271.8,569.9 C272.74,576.7 267.74,585.5 262.7,591.6 C257.09,598.4 247.09,602.99 238.4,607.8 C229.28,612.85 219.31,617.11 209.1,621 C198.45,625.06 186.76,628.2 175.7,631.5 C164.87,634.73 154.54,637.71 143.4,640.6 C131.59,643.66 118.61,646.53 106.7,649.3 C95.41,651.92 84.82,654.22 73.7,656.8 C62.3,659.45 50.63,662.27 39.1,665" fill="none" stroke="#b82a2a" stroke-width="1.2" clip-path="url(#c4)"/>
<rect x="52.8" y="483.7" width="6" height="6" fill="#d40000"/>
<rect x="87.6" y="491.1" width="6" height="6" fill="#d40000"/>
<rect x="126" y="500" width="6" height="6" fill="#d40000"/>
<rect x="160.8" y="509" width="6" height="6" fill="#d40000"/>
<rect x="195.6" y="519.8" width="6" height="6" fill="#d40000"/>
<rect x="228.3" y="532.8" width="6" height="6" fill="#d40000"/>
<rect x="253.1" y="547.2" width="6" height="6" fill="#d40000"/>
<rect x="268.8" y="566.9" width="6" height="6" fill="#d40000"/>
<rect x="259.7" y="588.6" width="6" height="6" fill="#d40000"/>
<rect x="235.4" y="604.8" width="6" height="6" fill="#d40000"/>
<rect x="206.1" y="618" width="6" height="6" fill="#d40000"/>
<rect x="172.7" y="628.5" width="6" height="6" fill="#d40000"/>
<rect x="140.4" y="637.6" width="6" height="6" fill="#d40000"/>
<rect x="103.7" y="646.3" width="6" height="6" fill="#d40000"/>
<rect x="70.7" y="653.8" width="6" height="6" fill="#d40000"/>
<path d="M39.1,488 C40.33,489.8 41.29,491.76 42.8,493.4 C44.42,495.15 46.31,496.58 48.6,498.1 C51.45,500 54.28,501.72 58.8,503.6 C66.74,506.91 81.63,511.04 93,514 C104.06,516.88 114.64,518.85 126.1,521.2 C138.41,523.72 151.61,526.15 164.5,528.6 C177.55,531.08 191.11,533.57 203.9,536 C216.04,538.3 227.56,540.16 239.4,542.8 C251.42,545.48 264.05,548.26 275.5,552 C286.32,555.53 299.88,559.56 306.4,564.4 C310.36,567.34 314.09,570.72 314.1,574 C314.11,577.42 310.05,581.33 305.8,584.5 C299.01,589.57 285.18,593.7 274.1,597.2 C262.47,600.87 249.69,603.11 237.5,605.8 C225.39,608.47 213.6,610.92 201.2,613.3 C188.23,615.79 174.41,618 161.3,620.4 C148.55,622.74 135.67,625.08 123.6,627.5 C112.4,629.75 102.07,631.42 91.3,634.4 C80.17,637.48 65.5,642.49 57.9,645.8 C53.74,647.61 51.19,648.77 48.6,650.8 C46.25,652.64 44.4,654.96 42.8,657.2 C41.31,659.28 40.4,661.53 39.2,663.7" fill="none" stroke="#30b830" stroke-width="1.2" clip-path="url(#c4)"/>
<circle cx="58.8" cy="503.6" r="4.1" fill="#00cc00"/>
<circle cx="93" cy="514" r="4.1" fill="#00cc00"/>
<circle cx="126.1" cy="521.2" r="4.1" fill="#00cc00"/>
<circle cx="164.5" cy="528.6" r="4.1" fill="#00cc00"/>
<circle cx="203.9" cy="536" r="4.1" fill="#00cc00"/>
<circle cx="239.4" cy="542.8" r="4.1" fill="#00cc00"/>
<circle cx="275.5" cy="552" r="4.1" fill="#00cc00"/>
<circle cx="306.4" cy="564.4" r="4.1" fill="#00cc00"/>
<circle cx="305.8" cy="584.5" r="4.1" fill="#00cc00"/>
<circle cx="274.1" cy="597.2" r="4.1" fill="#00cc00"/>
<circle cx="237.5" cy="605.8" r="4.1" fill="#00cc00"/>
<circle cx="201.2" cy="613.3" r="4.1" fill="#00cc00"/>
<circle cx="161.3" cy="620.4" r="4.1" fill="#00cc00"/>
<circle cx="123.6" cy="627.5" r="4.1" fill="#00cc00"/>
<circle cx="91.3" cy="634.4" r="4.1" fill="#00cc00"/>
<circle cx="57.9" cy="645.8" r="4.1" fill="#00cc00"/>
<circle cx="39.2" cy="663.7" r="4.1" fill="#00cc00"/>
<path d="M39.1,485.1 C41.3,486.9 43.54,488.86 45.7,490.5 C47.67,492 49.33,493.22 51.5,494.6 C54.09,496.25 56.33,497.84 60.3,499.6 C67.58,502.82 81.56,506.9 92.6,510.2 C104.04,513.62 115.85,516.98 127.8,519.7 C139.97,522.47 152.58,524.21 165,526.6 C177.48,529.01 190.6,531.55 202.5,534.1 C213.37,536.43 223.07,538.58 233.6,541.2 C244.56,543.93 256.03,546.35 267,550.2 C278.21,554.14 293.7,559.41 300.1,564.7 C303.68,567.66 306.52,570.84 306.5,574 C306.48,577.3 303.19,581 299.4,584.1 C293.27,589.11 279.96,593.3 269.8,597 C259.5,600.75 248.84,603.61 238,606.4 C226.88,609.26 215.38,611.49 203.9,613.9 C192.22,616.36 180.33,618.7 168.5,621 C156.63,623.3 144.89,625.12 132.8,627.7 C120.18,630.39 106.49,633.34 94.3,636.9 C82.97,640.21 69.03,645.63 62,648.1 C58.59,649.3 56.71,649.71 54.4,650.8 C52.28,651.8 50.47,652.92 48.6,654.3 C46.59,655.78 44.46,657.81 42.8,659.5 C41.4,660.93 40.4,662.3 39.2,663.7" fill="none" stroke="#4040dc" stroke-width="1.2" clip-path="url(#c4)"/>
<path d="M56.5,499.6 L62.9,496 L62.9,503.2 Z" fill="#2a2aff"/>
<path d="M88.8,510.2 L95.2,506.6 L95.2,513.8 Z" fill="#2a2aff"/>
<path d="M124,519.7 L130.4,516.1 L130.4,523.3 Z" fill="#2a2aff"/>
<path d="M161.2,526.6 L167.6,523 L167.6,530.2 Z" fill="#2a2aff"/>
<path d="M198.7,534.1 L205.1,530.5 L205.1,537.7 Z" fill="#2a2aff"/>
<path d="M229.8,541.2 L236.2,537.6 L236.2,544.8 Z" fill="#2a2aff"/>
<path d="M263.2,550.2 L269.6,546.6 L269.6,553.8 Z" fill="#2a2aff"/>
<path d="M296.3,564.7 L302.7,561.1 L302.7,568.3 Z" fill="#2a2aff"/>
<path d="M295.6,584.1 L302,580.5 L302,587.7 Z" fill="#2a2aff"/>
<path d="M266,597 L272.4,593.4 L272.4,600.6 Z" fill="#2a2aff"/>
<path d="M234.2,606.4 L240.6,602.8 L240.6,610 Z" fill="#2a2aff"/>
<path d="M200.1,613.9 L206.5,610.3 L206.5,617.5 Z" fill="#2a2aff"/>
<path d="M164.7,621 L171.1,617.4 L171.1,624.6 Z" fill="#2a2aff"/>
<path d="M129,627.7 L135.4,624.1 L135.4,631.3 Z" fill="#2a2aff"/>
<path d="M90.5,636.9 L96.9,633.3 L96.9,640.5 Z" fill="#2a2aff"/>
<path d="M58.2,648.1 L64.6,644.5 L64.6,651.7 Z" fill="#2a2aff"/>
<path d="M35.4,663.7 L41.8,660.1 L41.8,667.3 Z" fill="#2a2aff"/>
<rect x="39.1" y="485.2" width="282.4" height="180.5" fill="none" stroke="#000" stroke-width="1.8"/>
<text transform="translate(35.25,668.6) scale(0.9000,1)" text-anchor="end" style="font-family:'Liberation Sans',sans-serif;stroke:#000;stroke-width:0.22px;font-size:9.7px">0</text>
<text transform="translate(35.25,632.58) scale(0.9000,1)" text-anchor="end" style="font-family:'Liberation Sans',sans-serif;stroke:#000;stroke-width:0.22px;font-size:9.7px">0.2</text>
<text transform="translate(35.25,596.56) scale(0.9000,1)" text-anchor="end" style="font-family:'Liberation Sans',sans-serif;stroke:#000;stroke-width:0.22px;font-size:9.7px">0.4</text>
<text transform="translate(35.25,560.54) scale(0.9000,1)" text-anchor="end" style="font-family:'Liberation Sans',sans-serif;stroke:#000;stroke-width:0.22px;font-size:9.7px">0.6</text>
<text transform="translate(35.25,524.52) scale(0.9000,1)" text-anchor="end" style="font-family:'Liberation Sans',sans-serif;stroke:#000;stroke-width:0.22px;font-size:9.7px">0.8</text>
<path d="M32.59,488.5 L32.59,482.64 L31.23,483.72 L31.23,482.91 L32.65,481.83 L33.36,481.83 L33.36,488.5 Z" fill="#000" stroke="#000" stroke-width="0.4"/>
<text transform="translate(38.7,674.2) scale(0.9000,1)" text-anchor="middle" style="font-family:'Liberation Sans',sans-serif;stroke:#000;stroke-width:0.22px;font-size:9.7px">0</text>
<text transform="translate(79.7,674.2) scale(0.9000,1)" text-anchor="middle" style="font-family:'Liberation Sans',sans-serif;stroke:#000;stroke-width:0.22px;font-size:9.7px">0.5</text>
<path d="M119.99,674.2 L119.99,668.34 L118.64,669.42 L118.64,668.61 L120.06,667.53 L120.77,667.53 L120.77,674.2 Z" fill="#000" stroke="#000" stroke-width="0.4"/>
<text transform="translate(160.2,674.2) scale(0.9000,1)" text-anchor="middle" style="font-family:'Liberation Sans',sans-serif;stroke:#000;stroke-width:0.22px;font-size:9.7px">1.5</text>
<text transform="translate(200.5,674.2) scale(0.9000,1)" text-anchor="middle" style="font-family:'Liberation Sans',sans-serif;stroke:#000;stroke-width:0.22px;font-size:9.7px">2</text>
<text transform="translate(240.7,674.2) scale(0.9000,1)" text-anchor="middle" style="font-family:'Liberation Sans',sans-serif;stroke:#000;stroke-width:0.22px;font-size:9.7px">2.5</text>
<text transform="translate(281.4,674.2) scale(0.9000,1)" text-anchor="middle" style="font-family:'Liberation Sans',sans-serif;stroke:#000;stroke-width:0.22px;font-size:9.7px">3</text>
<text transform="translate(321.5,674.2) scale(0.9000,1)" text-anchor="middle" style="font-family:'Liberation Sans',sans-serif;stroke:#000;stroke-width:0.22px;font-size:9.7px">3.5</text>
<text transform="translate(107.89,692.8) scale(0.9889,1)" style="font-family:'Liberation Sans',sans-serif;font-weight:bold;font-size:10.36px">U-velocity at x=0.33L</text>
<text transform="translate(2.23,491.29) scale(1.0631,1)" style="font-family:'Liberation Sans',sans-serif;font-weight:bold;font-size:12.55px">(e)</text>
<text transform="translate(10.67,585.9) rotate(-90) scale(1.0202,1)" x="-0.09" style="font-family:'Liberation Sans',sans-serif;font-weight:bold;font-size:10.73px">y/H</text>
<text transform="translate(195.21,501.1) scale(0.9400,1)" style="font-family:'Liberation Sans',sans-serif;font-weight:bold;font-size:11.17px">Kn=0.10,</text>
<text transform="translate(239.47,501.1) scale(0.9860,1)" style="font-family:'Liberation Serif',serif;stroke:#000;stroke-width:0.2px;font-size:11.56px">ε=0.20</text>
<rect x="51.5" y="550.5" width="150.5" height="44.6" fill="#fff" stroke="#222" stroke-width="1.4"/>
<line x1="52.8" y1="563.2" x2="93.2" y2="563.2" stroke="#b82a2a" stroke-width="1.1"/>
<rect x="69.8" y="560.2" width="6" height="6" fill="#d40000"/>
<text transform="translate(100.03,566.2) scale(0.9100,1)" text-anchor="start" style="font-family:'Liberation Sans',sans-serif;font-weight:bold;font-size:9.75px">Smooth MC</text>
<line x1="52.8" y1="576.4" x2="93.2" y2="576.4" stroke="#30b830" stroke-width="1.1"/>
<circle cx="72.8" cy="576.4" r="4.1" fill="#00cc00"/>
<text transform="translate(99.77,579.4) scale(0.9100,1)" text-anchor="start" style="font-family:'Liberation Sans',sans-serif;font-weight:bold;font-size:9.75px">Upstream Wedge MC</text>
<line x1="52.8" y1="589.5" x2="93.2" y2="589.5" stroke="#4040dc" stroke-width="1.1"/>
<path d="M69.1,589.5 L75.5,585.9 L75.5,593.1 Z" fill="#2a2aff"/>
<text transform="translate(99.71,592.5) scale(0.9100,1)" text-anchor="start" style="font-family:'Liberation Sans',sans-serif;font-weight:bold;font-size:9.75px">Downstream Wedge MC</text>
<path d="M402,485.1 C414.83,486.7 427.61,487.96 440.5,489.9 C453.61,491.88 467.25,494.46 480,496.9 C492.04,499.2 503.03,501.36 515,504.1 C527.75,507.02 541.71,510.79 554.3,514 C565.97,516.98 576.87,519.43 588,522.7 C599.14,525.97 610.58,529.52 621.1,533.6 C631.06,537.46 641,541.07 649.6,546.4 C657.86,551.52 668.04,558.99 671.9,564.7 C674.21,568.11 675.23,571.12 675,574.5 C674.74,578.32 672.62,582.53 669.4,586.4 C664.69,592.06 655.02,598.09 646.6,602.8 C637.52,607.88 627.01,611.63 616.5,615.4 C605.4,619.38 593.19,622.59 581.6,625.9 C570.19,629.15 558.76,632.33 547.5,635.1 C536.57,637.78 526.04,639.91 515,642.3 C503.56,644.78 492,647.31 480,649.7 C467.37,652.22 454.19,654.72 441,657 C427.5,659.33 413.6,661.33 399.9,663.5" fill="none" stroke="#b82a2a" stroke-width="1.2" clip-path="url(#c5)"/>
<rect x="437.5" y="486.9" width="6" height="6" fill="#d40000"/>
<rect x="477" y="493.9" width="6" height="6" fill="#d40000"/>
<rect x="512" y="501.1" width="6" height="6" fill="#d40000"/>
<rect x="551.3" y="511" width="6" height="6" fill="#d40000"/>
<rect x="585" y="519.7" width="6" height="6" fill="#d40000"/>
<rect x="618.1" y="530.6" width="6" height="6" fill="#d40000"/>
<rect x="646.6" y="543.4" width="6" height="6" fill="#d40000"/>
<rect x="668.9" y="561.7" width="6" height="6" fill="#d40000"/>
<rect x="666.4" y="583.4" width="6" height="6" fill="#d40000"/>
<rect x="643.6" y="599.8" width="6" height="6" fill="#d40000"/>
<rect x="613.5" y="612.4" width="6" height="6" fill="#d40000"/>
<rect x="578.6" y="622.9" width="6" height="6" fill="#d40000"/>
<rect x="544.5" y="632.1" width="6" height="6" fill="#d40000"/>
<rect x="512" y="639.3" width="6" height="6" fill="#d40000"/>
<rect x="477" y="646.7" width="6" height="6" fill="#d40000"/>
<rect x="438" y="654" width="6" height="6" fill="#d40000"/>
<path d="M404,485.3 C407.93,485.67 410.78,485.66 415.8,486.4 C424.87,487.73 441.34,491.46 453.7,494 C465.55,496.43 476.63,498.71 488.5,501.3 C500.97,504.02 514.44,507 526.8,510 C538.49,512.84 549.61,515.5 560.8,518.8 C571.91,522.07 583.06,525.65 593.7,529.7 C604.05,533.64 614.62,537.58 623.8,542.7 C632.38,547.48 642.04,553.59 647.3,559.1 C650.91,562.88 653.78,566.66 654.5,570.5 C655.13,573.87 654.42,577.13 652.5,580.7 C649.46,586.34 641.39,593.69 634,598.9 C625.68,604.76 614.46,608.99 604.4,613.2 C594.4,617.38 584.14,620.73 573.8,624.1 C563.35,627.5 553,630.55 542,633.5 C530.31,636.64 517.55,639.63 505.6,642.3 C494.1,644.87 483.11,646.97 471.6,649.3 C459.75,651.7 447.49,654.12 435.5,656.5 C423.59,658.86 411.77,661.17 399.9,663.5" fill="none" stroke="#30b830" stroke-width="1.2" clip-path="url(#c5)"/>
<circle cx="415.8" cy="486.4" r="4.1" fill="#00cc00"/>
<circle cx="453.7" cy="494" r="4.1" fill="#00cc00"/>
<circle cx="488.5" cy="501.3" r="4.1" fill="#00cc00"/>
<circle cx="526.8" cy="510" r="4.1" fill="#00cc00"/>
<circle cx="560.8" cy="518.8" r="4.1" fill="#00cc00"/>
<circle cx="593.7" cy="529.7" r="4.1" fill="#00cc00"/>
<circle cx="623.8" cy="542.7" r="4.1" fill="#00cc00"/>
<circle cx="647.3" cy="559.1" r="4.1" fill="#00cc00"/>
<circle cx="652.5" cy="580.7" r="4.1" fill="#00cc00"/>
<circle cx="634" cy="598.9" r="4.1" fill="#00cc00"/>
<circle cx="604.4" cy="613.2" r="4.1" fill="#00cc00"/>
<circle cx="573.8" cy="624.1" r="4.1" fill="#00cc00"/>
<circle cx="542" cy="633.5" r="4.1" fill="#00cc00"/>
<circle cx="505.6" cy="642.3" r="4.1" fill="#00cc00"/>
<circle cx="471.6" cy="649.3" r="4.1" fill="#00cc00"/>
<circle cx="435.5" cy="656.5" r="4.1" fill="#00cc00"/>
<circle cx="399.9" cy="663.5" r="4.1" fill="#00cc00"/>
<path d="M405.5,484.9 C417.53,487.43 429.61,490.06 441.6,492.5 C453.48,494.92 465.1,496.92 477.1,499.5 C489.55,502.17 502.78,505.17 515,508.3 C526.57,511.26 537.48,514.38 548.6,517.7 C559.68,521.01 570.92,524.27 581.6,528.2 C592,532.03 602.5,535.94 611.9,540.9 C620.83,545.61 631.03,551.36 636.8,557 C640.92,561.03 644.41,565.43 645.3,569.5 C646.02,572.76 645.43,575.62 643.7,579.1 C640.81,584.92 632.42,593.34 625,598.9 C617.03,604.87 606.69,609.03 597,613.2 C587.14,617.45 576.47,620.78 566.3,624.1 C556.41,627.33 547.04,630.01 536.8,632.9 C525.77,636.01 513.47,639.17 502.3,642.1 C491.77,644.86 482.29,647.59 471.6,650 C460.09,652.59 447.5,654.74 435.5,657 C423.6,659.24 411.77,661.33 399.9,663.5" fill="none" stroke="#4040dc" stroke-width="1.2" clip-path="url(#c5)"/>
<path d="M401.7,484.9 L408.1,481.3 L408.1,488.5 Z" fill="#2a2aff"/>
<path d="M437.8,492.5 L444.2,488.9 L444.2,496.1 Z" fill="#2a2aff"/>
<path d="M473.3,499.5 L479.7,495.9 L479.7,503.1 Z" fill="#2a2aff"/>
<path d="M511.2,508.3 L517.6,504.7 L517.6,511.9 Z" fill="#2a2aff"/>
<path d="M544.8,517.7 L551.2,514.1 L551.2,521.3 Z" fill="#2a2aff"/>
<path d="M577.8,528.2 L584.2,524.6 L584.2,531.8 Z" fill="#2a2aff"/>
<path d="M608.1,540.9 L614.5,537.3 L614.5,544.5 Z" fill="#2a2aff"/>
<path d="M633,557 L639.4,553.4 L639.4,560.6 Z" fill="#2a2aff"/>
<path d="M639.9,579.1 L646.3,575.5 L646.3,582.7 Z" fill="#2a2aff"/>
<path d="M621.2,598.9 L627.6,595.3 L627.6,602.5 Z" fill="#2a2aff"/>
<path d="M593.2,613.2 L599.6,609.6 L599.6,616.8 Z" fill="#2a2aff"/>
<path d="M562.5,624.1 L568.9,620.5 L568.9,627.7 Z" fill="#2a2aff"/>
<path d="M533,632.9 L539.4,629.3 L539.4,636.5 Z" fill="#2a2aff"/>
<path d="M498.5,642.1 L504.9,638.5 L504.9,645.7 Z" fill="#2a2aff"/>
<path d="M467.8,650 L474.2,646.4 L474.2,653.6 Z" fill="#2a2aff"/>
<path d="M431.7,657 L438.1,653.4 L438.1,660.6 Z" fill="#2a2aff"/>
<path d="M396.1,663.5 L402.5,659.9 L402.5,667.1 Z" fill="#2a2aff"/>
<rect x="400.1" y="485.2" width="282.5" height="180.7" fill="none" stroke="#000" stroke-width="1.8"/>
<text transform="translate(396.4,668.9) scale(0.9000,1)" text-anchor="end" style="font-family:'Liberation Sans',sans-serif;stroke:#000;stroke-width:0.22px;font-size:9.7px">0</text>
<text transform="translate(396.4,632.82) scale(0.9000,1)" text-anchor="end" style="font-family:'Liberation Sans',sans-serif;stroke:#000;stroke-width:0.22px;font-size:9.7px">0.2</text>
<text transform="translate(396.4,596.74) scale(0.9000,1)" text-anchor="end" style="font-family:'Liberation Sans',sans-serif;stroke:#000;stroke-width:0.22px;font-size:9.7px">0.4</text>
<text transform="translate(396.4,560.66) scale(0.9000,1)" text-anchor="end" style="font-family:'Liberation Sans',sans-serif;stroke:#000;stroke-width:0.22px;font-size:9.7px">0.6</text>
<text transform="translate(396.4,524.58) scale(0.9000,1)" text-anchor="end" style="font-family:'Liberation Sans',sans-serif;stroke:#000;stroke-width:0.22px;font-size:9.7px">0.8</text>
<path d="M393.74,488.5 L393.74,482.64 L392.38,483.72 L392.38,482.91 L393.8,481.83 L394.51,481.83 L394.51,488.5 Z" fill="#000" stroke="#000" stroke-width="0.4"/>
<text transform="translate(399.9,674.6) scale(0.9000,1)" text-anchor="middle" style="font-family:'Liberation Sans',sans-serif;stroke:#000;stroke-width:0.22px;font-size:9.7px">0</text>
<text transform="translate(447.5,674.6) scale(0.9000,1)" text-anchor="middle" style="font-family:'Liberation Sans',sans-serif;stroke:#000;stroke-width:0.22px;font-size:9.7px">0.5</text>
<path d="M494.79,674.6 L494.79,668.74 L493.44,669.82 L493.44,669.01 L494.86,667.93 L495.57,667.93 L495.57,674.6 Z" fill="#000" stroke="#000" stroke-width="0.4"/>
<text transform="translate(541.9,674.6) scale(0.9000,1)" text-anchor="middle" style="font-family:'Liberation Sans',sans-serif;stroke:#000;stroke-width:0.22px;font-size:9.7px">1.5</text>
<text transform="translate(588.5,674.6) scale(0.9000,1)" text-anchor="middle" style="font-family:'Liberation Sans',sans-serif;stroke:#000;stroke-width:0.22px;font-size:9.7px">2</text>
<text transform="translate(636,674.6) scale(0.9000,1)" text-anchor="middle" style="font-family:'Liberation Sans',sans-serif;stroke:#000;stroke-width:0.22px;font-size:9.7px">2.5</text>
<text transform="translate(682.5,674.6) scale(0.9000,1)" text-anchor="middle" style="font-family:'Liberation Sans',sans-serif;stroke:#000;stroke-width:0.22px;font-size:9.7px">3</text>
<text transform="translate(454.98,687.7) scale(0.9528,1)" style="font-family:'Liberation Sans',sans-serif;font-weight:bold;font-size:10.77px">U-velocity at x=0.86L</text>
<text transform="translate(363.47,489.97) scale(1.0736,1)" style="font-family:'Liberation Sans',sans-serif;font-weight:bold;font-size:11.7px">(f)</text>
<text transform="translate(372.87,580.2) rotate(-90) scale(0.9761,1)" x="-0.09" style="font-family:'Liberation Sans',sans-serif;font-weight:bold;font-size:10.73px">y/H</text>
<text transform="translate(558.92,504.5) scale(0.9243,1)" style="font-family:'Liberation Sans',sans-serif;font-weight:bold;font-size:11.17px">Kn=0.10,</text>
<text transform="translate(602.59,502.8) scale(1.0345,1)" style="font-family:'Liberation Serif',serif;stroke:#000;stroke-width:0.2px;font-size:10.51px">ε=0.20</text>
<rect x="413.4" y="551.7" width="151" height="44.4" fill="#fff" stroke="#222" stroke-width="1.4"/>
<line x1="414.7" y1="564.4" x2="455.1" y2="564.4" stroke="#b82a2a" stroke-width="1.1"/>
<rect x="431.7" y="561.4" width="6" height="6" fill="#d40000"/>
<text transform="translate(461.93,567.4) scale(0.9100,1)" text-anchor="start" style="font-family:'Liberation Sans',sans-serif;font-weight:bold;font-size:9.75px">Smooth MC</text>
<line x1="414.7" y1="577.6" x2="455.1" y2="577.6" stroke="#30b830" stroke-width="1.1"/>
<circle cx="434.7" cy="577.6" r="4.1" fill="#00cc00"/>
<text transform="translate(461.67,580.6) scale(0.9100,1)" text-anchor="start" style="font-family:'Liberation Sans',sans-serif;font-weight:bold;font-size:9.75px">Upstream Wedge MC</text>
<line x1="414.7" y1="590.7" x2="455.1" y2="590.7" stroke="#4040dc" stroke-width="1.1"/>
<path d="M431,590.7 L437.4,587.1 L437.4,594.3 Z" fill="#2a2aff"/>
<text transform="translate(461.61,593.7) scale(0.9100,1)" text-anchor="start" style="font-family:'Liberation Sans',sans-serif;font-weight:bold;font-size:9.75px">Downstream Wedge MC</text>
</svg></body></html>
